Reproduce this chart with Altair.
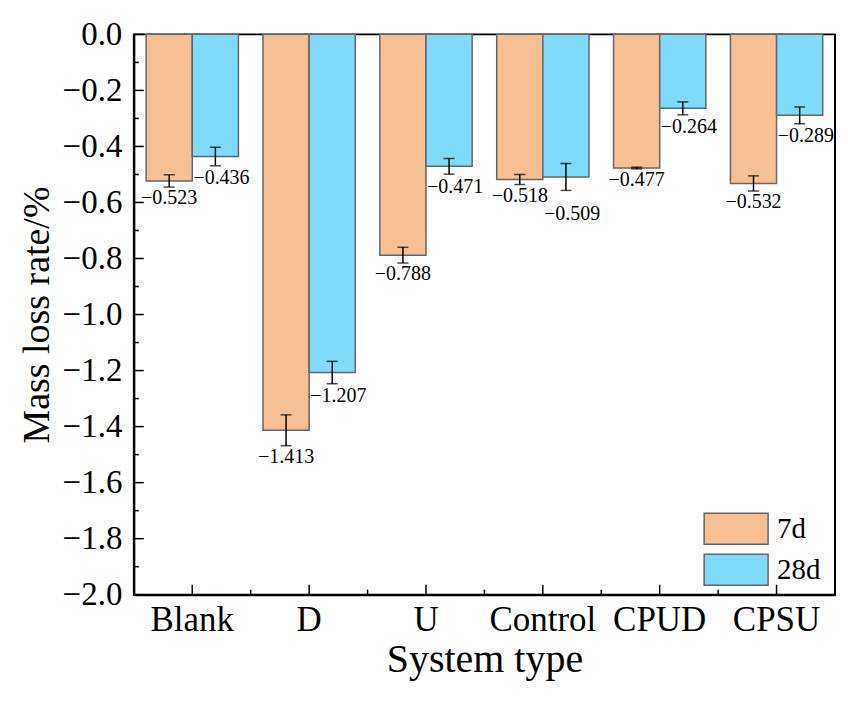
import altair as alt
import pandas as pd

FONT = "Liberation Serif"

categories = ["Blank", "D", "U", "Control", "CPUD", "CPSU"]
series = ["7d", "28d"]
values_7d = [-0.523, -1.413, -0.788, -0.518, -0.477, -0.532]
values_28d = [-0.436, -1.207, -0.471, -0.509, -0.264, -0.289]
err_7d = [0.022, 0.055, 0.028, 0.018, 0.003, 0.027]
err_28d = [0.033, 0.040, 0.028, 0.048, 0.023, 0.030]
labels_7d = ["−0.523", "−1.413", "−0.788", "−0.518", "−0.477", "−0.532"]
labels_28d = ["−0.436", "−1.207", "−0.471", "−0.509", "−0.264", "−0.289"]
y_major = [-2.0, -1.8, -1.6, -1.4, -1.2, -1.0, -0.8, -0.6, -0.4, -0.2, 0.0]
y_minor = [-1.9, -1.7, -1.5, -1.3, -1.1, -0.9, -0.7, -0.5, -0.3, -0.1]
colors = ["#F6BF94", "#80DAF9"]

rows = []
for s, vals, errs, labs in [("7d", values_7d, err_7d, labels_7d),
                            ("28d", values_28d, err_28d, labels_28d)]:
    for c, v, e, l in zip(categories, vals, errs, labs):
        rows.append(dict(cat=c, series=s, value=v, lo=v - e, hi=v + e, label=l))
df = pd.DataFrame(rows)

W, H = 702, 561

xscale = alt.Scale(domain=categories, paddingInner=0, paddingOuter=0)
xaxis = alt.Axis(title="System type", labelAngle=0, tickSize=0,
                 labelPadding=8, titlePadding=2, labelFontSize=35, titleFontSize=40)
yscale = alt.Scale(domain=[-2, 0], nice=False, zero=False)
yaxis = alt.Axis(title="Mass loss rate/%", values=y_major, format=".1f",
                 tickSize=0, labelPadding=12, titlePadding=6, labelFontSize=33,
                 titleFontSize=38)


def X(**kw):
    return alt.X("cat:N", sort=categories, scale=xscale, axis=xaxis, **kw)


def Y(field):
    return alt.Y(field, scale=yscale, axis=yaxis)


xoff = alt.XOffset("series:N", sort=series,
                   scale=alt.Scale(domain=series, paddingInner=0, paddingOuter=0.266))

base = alt.Chart(df)

bars = base.mark_bar(stroke="#666666", strokeWidth=1.5).encode(
    x=X(),
    xOffset=xoff,
    y=Y("value:Q"),
    y2=alt.datum(0),
    color=alt.Color("series:N", sort=series,
                    scale=alt.Scale(domain=series, range=colors),
                    legend=alt.Legend(title=None, orient="none", legendX=586, legendY=478,
                                      symbolType="M-2,-0.97L2,-0.97L2,0.97L-2,0.97Z",
                                      symbolSize=1024, symbolStrokeColor="#666666",
                                      symbolStrokeWidth=1.5, symbolOpacity=1,
                                      labelFont=FONT, labelFontSize=29, labelColor="black",
                                      labelOffset=24, rowPadding=3, padding=0)),
)

err_rule = base.mark_rule(color="black", strokeWidth=1.5).encode(
    x=X(), xOffset=xoff, y=Y("lo:Q"), y2="hi:Q",
)
cap_lo = base.mark_tick(color="black", thickness=1.5, size=11, orient="horizontal").encode(
    x=X(), xOffset=xoff, y=Y("lo:Q"),
)
cap_hi = base.mark_tick(color="black", thickness=1.5, size=11, orient="horizontal").encode(
    x=X(), xOffset=xoff, y=Y("hi:Q"),
)

txt_enc = dict(x=X(), xOffset=xoff, y=Y("lo:Q"), text="label:N")
txt7 = base.transform_filter(alt.datum.series == "7d").mark_text(
    font=FONT, fontSize=20, align="center", baseline="middle", dy=11, color="black"
).encode(**txt_enc)
txt28 = base.transform_filter(
    (alt.datum.series == "28d") & (alt.datum.cat != "Control")
).mark_text(
    font=FONT, fontSize=20, align="left", baseline="middle", dx=-22, dy=12.5, color="black"
).encode(**txt_enc)
txt28c = base.transform_filter(
    (alt.datum.series == "28d") & (alt.datum.cat == "Control")
).mark_text(
    font=FONT, fontSize=20, align="left", baseline="middle", dx=-22, dy=24, color="black"
).encode(**txt_enc)

ymaj = alt.Chart(pd.DataFrame({"t": y_major})).mark_rule(color="black", strokeWidth=1.5).encode(
    y=Y("t:Q"), x=alt.value(0), x2=alt.value(10))
ymin = alt.Chart(pd.DataFrame({"t": y_minor})).mark_rule(color="black", strokeWidth=1.5).encode(
    y=Y("t:Q"), x=alt.value(0), x2=alt.value(5))
xmaj = alt.Chart(pd.DataFrame({"cat": categories})).mark_rule(color="black", strokeWidth=1.5).encode(
    x=X(), y=alt.value(H), y2=alt.value(H - 10))
xmin = alt.Chart(pd.DataFrame({"cat": categories[1:]})).mark_rule(color="black", strokeWidth=1.5).encode(
    x=X(bandPosition=0), y=alt.value(H), y2=alt.value(H - 5))

chart = alt.layer(bars, err_rule, cap_lo, cap_hi, txt7, txt28, txt28c, ymaj, ymin, xmaj, xmin).properties(
    width=W, height=H,
    padding={"left": 10, "top": 10, "right": 5, "bottom": 5},
).configure_view(
    stroke="black", strokeWidth=2
).configure_axis(
    labelFont=FONT, titleFont=FONT,
    labelColor="black", titleColor="black", titleFontWeight="normal",
    domainColor="black", domainWidth=2, grid=False,
)

chart.save("out.html", embed_options={"renderer": "svg", "actions": False})
